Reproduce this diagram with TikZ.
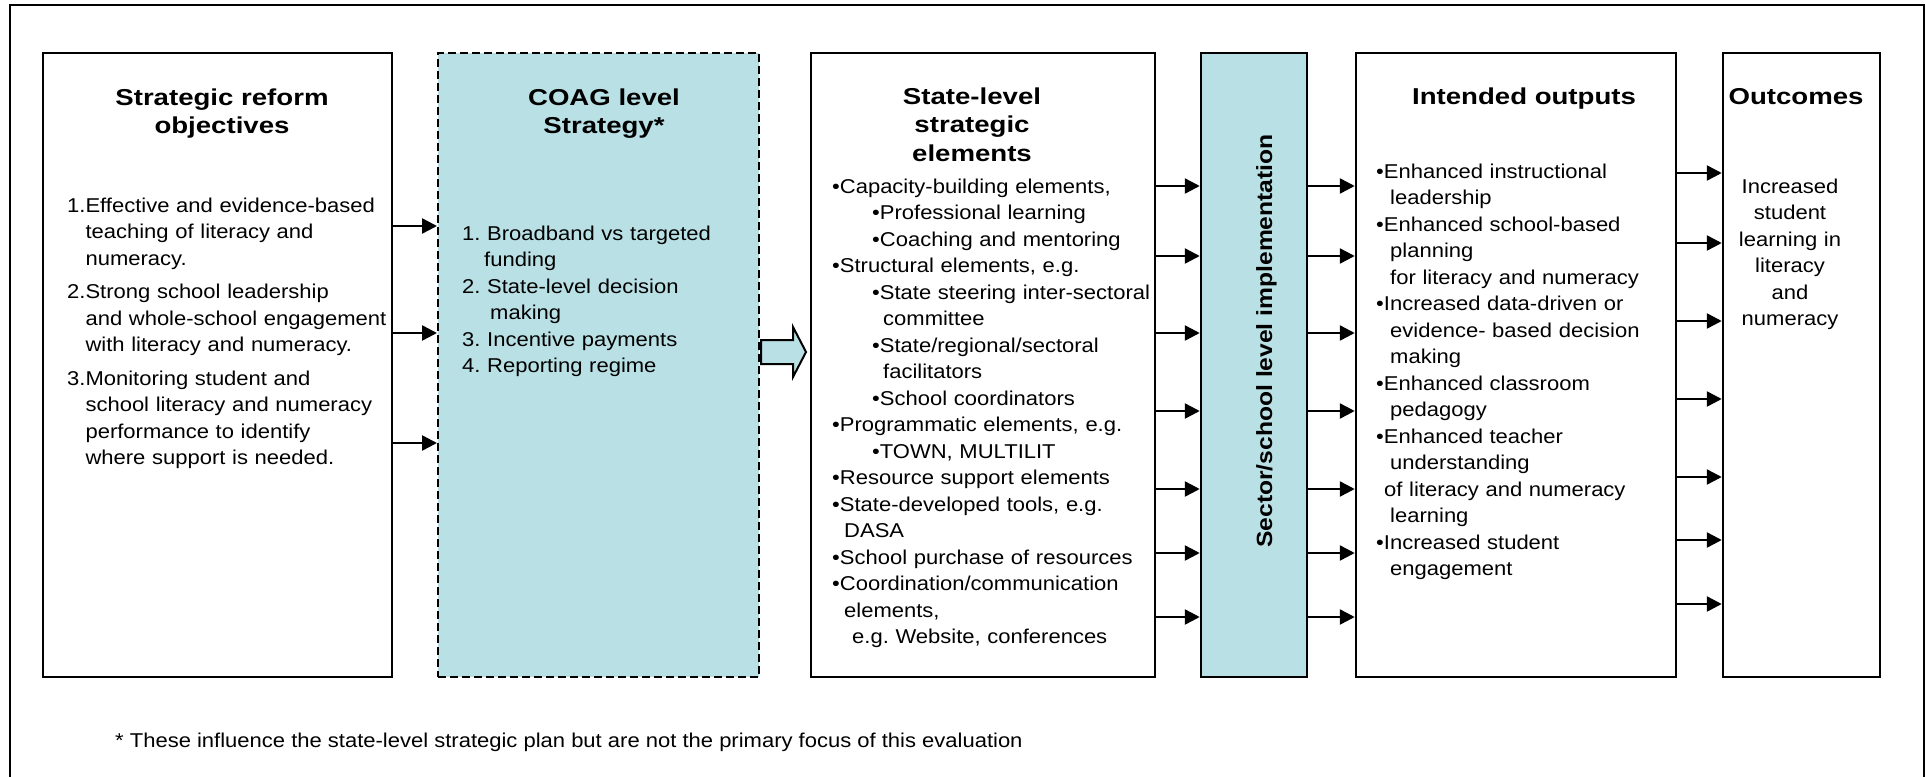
\documentclass[tikz,border=0pt]{standalone}
\usepackage{fontspec}
\setmainfont{Liberation Sans}[FakeStretch=1.1]
\newfontfamily\titlefont{Liberation Sans}[FakeStretch=1.2]
\newfontfamily\vertfont{Liberation Sans}[FakeStretch=1.12]
\usetikzlibrary{arrows.meta}
\definecolor{tealfill}{RGB}{185,224,228}
\frenchspacing
\begin{document}
\begin{tikzpicture}[x=1pt,y=-1pt,
  box/.style={draw, line width=2.5pt, inner sep=0pt, minimum height=624pt},
  arr/.style={line width=2.5pt, -{Triangle[length=15pt,width=15pt]}},
  bodytext/.style={inner sep=0pt, anchor=base west, align=left, text width=340pt,
    font=\frenchspacing\fontsize{20}{26.5}\selectfont},
  titletext/.style={inner sep=0pt, anchor=base, align=center, text width=300pt,
    font=\titlefont\bfseries\fontsize{23}{28.5}\selectfont},
]
\useasboundingbox (0,0) rectangle (1926,776);
\clip (0,0) rectangle (1926,776);
% outer frame
\draw[line width=2pt] (10,790) -- (10,5) -- (1924,5) -- (1924,790);

% boxes
\node[box, minimum width=349pt] (b1) at (217.5,365) {};
\node[box, minimum width=321pt, fill=tealfill, dash pattern=on 8pt off 4pt, line width=2pt] (b2) at (598.5,365) {};
\node[box, minimum width=344pt] (b3) at (983,365) {};
\node[box, minimum width=106pt, fill=tealfill] (b4) at (1254,365) {};
\node[box, minimum width=320pt] (b5) at (1516,365) {};
\node[box, minimum width=157pt] (b6) at (1801.5,365) {};

% connectors
\foreach \y in {226,333,443}
  \draw[arr] (b1.east |- 0,\y) -- (b2.west |- 0,\y);
\foreach \y in {186,256,333,411,489,553,617}{
  \draw[arr] (b3.east |- 0,\y) -- (b4.west |- 0,\y);
  \draw[arr] (b4.east |- 0,\y) -- (b5.west |- 0,\y);
}
\foreach \y in {173,243,321,399,477,540,604}
  \draw[arr] (b5.east |- 0,\y) -- (b6.west |- 0,\y);

% block arrow between COAG and state-level
\draw[line width=2pt, fill=tealfill, line join=miter]
  (761,340) -- (793,340) -- (793,327) -- (806,352) -- (793,377) -- (793,364) -- (761,364) -- cycle;

% titles
\node[titletext] (t1) at (222,105) {Strategic reform\\objectives};
\node[titletext] (t2) at (604,105) {COAG level\\Strategy*};
\node[titletext] (t3) at (972,104) {State-level\\strategic\\elements};
\node[titletext] (t5) at (1524,104) {Intended outputs};
\node[titletext, text width=150pt] (t6) at (1796,104) {Outcomes};

% box 1 body
\node[bodytext] (p1) at (67,212) {1.Effective and evidence-based\\
\hphantom{1.}teaching of literacy and\\
\hphantom{1.}numeracy.\\[7pt]
2.Strong school leadership\\
\hphantom{2.}and whole-school engagement\\
\hphantom{2.}with literacy and numeracy.\\[7pt]
3.Monitoring student and\\
\hphantom{3.}school literacy and numeracy\\
\hphantom{3.}performance to identify\\
\hphantom{3.}where support is needed.};

% box 2 body
\node[bodytext] (p2) at (462,240) {1. Broadband vs targeted\\
\hspace*{22pt}funding\\
2. State-level decision\\
\hspace*{28pt}making\\
3. Incentive payments\\
4. Reporting regime};

% box 3 body
\node[bodytext] (p3) at (832,193) {•Capacity-building elements,\\
\hspace*{40pt}•Professional learning\\
\hspace*{40pt}•Coaching and mentoring\\
•Structural elements, e.g.\\
\hspace*{40pt}•State steering inter-sectoral\\
\hspace*{51pt}committee\\
\hspace*{40pt}•State/regional/sectoral\\
\hspace*{51pt}facilitators\\
\hspace*{40pt}•School coordinators\\
•Programmatic elements, e.g.\\
\hspace*{40pt}•TOWN, MULTILIT\\
•Resource support elements\\
•State-developed tools, e.g.\\
\hspace*{12pt}DASA\\
•School purchase of resources\\
•Coordination/communication\\
\hspace*{12pt}elements,\\
\hspace*{20pt}e.g. Website, conferences};

% box 4 vertical label
\node[rotate=90, anchor=base, inner sep=0pt,
  font=\vertfont\bfseries\fontsize{22}{26}\selectfont] (v4) at (1272,341)
  {Sector/school level implementation};

% box 5 body
\node[bodytext] (p5) at (1376,178) {•Enhanced instructional\\
\hspace*{14pt}leadership\\
•Enhanced school-based\\
\hspace*{14pt}planning\\
\hspace*{14pt}for literacy and numeracy\\
•Increased data-driven or\\
\hspace*{14pt}evidence- based decision\\
\hspace*{14pt}making\\
•Enhanced classroom\\
\hspace*{14pt}pedagogy\\
•Enhanced teacher\\
\hspace*{14pt}understanding\\
\hspace*{8pt}of literacy and numeracy\\
\hspace*{14pt}learning\\
•Increased student\\
\hspace*{14pt}engagement};

% box 6 body
\node[inner sep=0pt, anchor=base, align=center, text width=150pt,
  font=\fontsize{20}{26.5}\selectfont]
  (p6) at (1790,193) {Increased\\student\\learning in\\literacy\\and\\numeracy};

% footnote
\node[inner sep=0pt, anchor=base west, font=\frenchspacing\fontsize{20}{26.5}\selectfont] (fn) at (115,747)
  {* These influence the state-level strategic plan but are not the primary focus of this evaluation};
\end{tikzpicture}
\end{document}
